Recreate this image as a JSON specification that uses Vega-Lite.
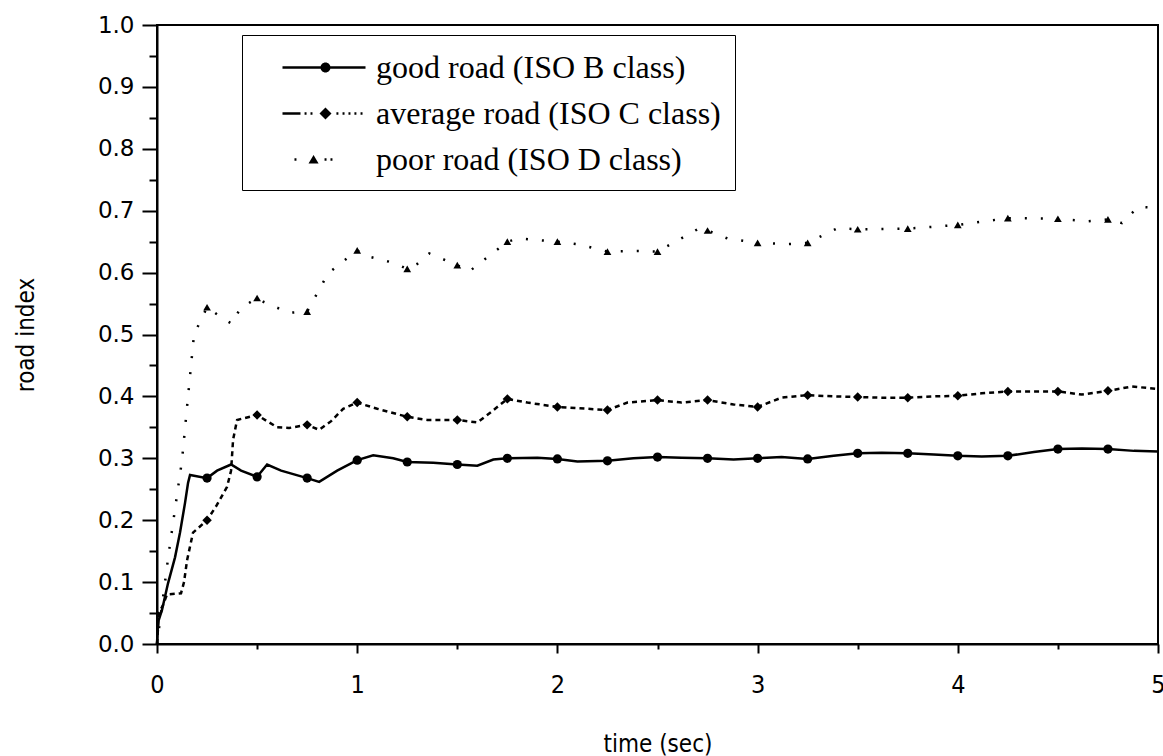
{
  "$schema": "https://vega.github.io/schema/vega-lite/v6.json",
  "width": 1001,
  "height": 619,
  "autosize": "none",
  "padding": {"left": 157, "top": 25, "right": 5, "bottom": 112},
  "background": "white",
  "config": {
    "view": {"stroke": "black", "strokeWidth": 2},
    "axis": {"domainColor": "black", "domainWidth": 2, "tickColor": "black", "tickWidth": 2, "labelColor": "black", "titleColor": "black", "grid": false}
  },
  "data": {"values": [
    {"series": "good road (ISO B class)", "t": 0, "v": 0},
    {"series": "good road (ISO B class)", "t": 0.005, "v": 0.035},
    {"series": "good road (ISO B class)", "t": 0.025, "v": 0.055},
    {"series": "good road (ISO B class)", "t": 0.055, "v": 0.098},
    {"series": "good road (ISO B class)", "t": 0.09, "v": 0.14},
    {"series": "good road (ISO B class)", "t": 0.115, "v": 0.18},
    {"series": "good road (ISO B class)", "t": 0.14, "v": 0.228},
    {"series": "good road (ISO B class)", "t": 0.155, "v": 0.26},
    {"series": "good road (ISO B class)", "t": 0.165, "v": 0.273},
    {"series": "good road (ISO B class)", "t": 0.25, "v": 0.268},
    {"series": "good road (ISO B class)", "t": 0.3, "v": 0.28},
    {"series": "good road (ISO B class)", "t": 0.37, "v": 0.29},
    {"series": "good road (ISO B class)", "t": 0.42, "v": 0.28},
    {"series": "good road (ISO B class)", "t": 0.5, "v": 0.27},
    {"series": "good road (ISO B class)", "t": 0.55, "v": 0.29},
    {"series": "good road (ISO B class)", "t": 0.62, "v": 0.28},
    {"series": "good road (ISO B class)", "t": 0.75, "v": 0.268},
    {"series": "good road (ISO B class)", "t": 0.81, "v": 0.262},
    {"series": "good road (ISO B class)", "t": 0.9, "v": 0.28},
    {"series": "good road (ISO B class)", "t": 1.0, "v": 0.297},
    {"series": "good road (ISO B class)", "t": 1.08, "v": 0.305},
    {"series": "good road (ISO B class)", "t": 1.18, "v": 0.3},
    {"series": "good road (ISO B class)", "t": 1.25, "v": 0.294},
    {"series": "good road (ISO B class)", "t": 1.38, "v": 0.293},
    {"series": "good road (ISO B class)", "t": 1.5, "v": 0.29},
    {"series": "good road (ISO B class)", "t": 1.6, "v": 0.288},
    {"series": "good road (ISO B class)", "t": 1.68, "v": 0.298},
    {"series": "good road (ISO B class)", "t": 1.75, "v": 0.3},
    {"series": "good road (ISO B class)", "t": 1.9, "v": 0.301},
    {"series": "good road (ISO B class)", "t": 2.0, "v": 0.299},
    {"series": "good road (ISO B class)", "t": 2.1, "v": 0.295},
    {"series": "good road (ISO B class)", "t": 2.25, "v": 0.296},
    {"series": "good road (ISO B class)", "t": 2.38, "v": 0.3},
    {"series": "good road (ISO B class)", "t": 2.5, "v": 0.302},
    {"series": "good road (ISO B class)", "t": 2.62, "v": 0.301},
    {"series": "good road (ISO B class)", "t": 2.75, "v": 0.3},
    {"series": "good road (ISO B class)", "t": 2.88, "v": 0.298},
    {"series": "good road (ISO B class)", "t": 3.0, "v": 0.3},
    {"series": "good road (ISO B class)", "t": 3.12, "v": 0.302},
    {"series": "good road (ISO B class)", "t": 3.25, "v": 0.299},
    {"series": "good road (ISO B class)", "t": 3.38, "v": 0.304},
    {"series": "good road (ISO B class)", "t": 3.5, "v": 0.308},
    {"series": "good road (ISO B class)", "t": 3.62, "v": 0.309},
    {"series": "good road (ISO B class)", "t": 3.75, "v": 0.308},
    {"series": "good road (ISO B class)", "t": 3.88, "v": 0.306},
    {"series": "good road (ISO B class)", "t": 4.0, "v": 0.304},
    {"series": "good road (ISO B class)", "t": 4.12, "v": 0.303},
    {"series": "good road (ISO B class)", "t": 4.25, "v": 0.304},
    {"series": "good road (ISO B class)", "t": 4.38, "v": 0.31},
    {"series": "good road (ISO B class)", "t": 4.5, "v": 0.315},
    {"series": "good road (ISO B class)", "t": 4.62, "v": 0.316},
    {"series": "good road (ISO B class)", "t": 4.75, "v": 0.315},
    {"series": "good road (ISO B class)", "t": 4.88, "v": 0.312},
    {"series": "good road (ISO B class)", "t": 5.0, "v": 0.311},

    {"series": "average road (ISO C class)", "t": 0, "v": 0},
    {"series": "average road (ISO C class)", "t": 0.01, "v": 0.05},
    {"series": "average road (ISO C class)", "t": 0.03, "v": 0.063},
    {"series": "average road (ISO C class)", "t": 0.05, "v": 0.08},
    {"series": "average road (ISO C class)", "t": 0.12, "v": 0.082},
    {"series": "average road (ISO C class)", "t": 0.135, "v": 0.1},
    {"series": "average road (ISO C class)", "t": 0.15, "v": 0.135},
    {"series": "average road (ISO C class)", "t": 0.18, "v": 0.18},
    {"series": "average road (ISO C class)", "t": 0.25, "v": 0.2},
    {"series": "average road (ISO C class)", "t": 0.3, "v": 0.225},
    {"series": "average road (ISO C class)", "t": 0.35, "v": 0.254},
    {"series": "average road (ISO C class)", "t": 0.37, "v": 0.28},
    {"series": "average road (ISO C class)", "t": 0.38, "v": 0.33},
    {"series": "average road (ISO C class)", "t": 0.4, "v": 0.362},
    {"series": "average road (ISO C class)", "t": 0.5, "v": 0.37},
    {"series": "average road (ISO C class)", "t": 0.6, "v": 0.35},
    {"series": "average road (ISO C class)", "t": 0.66, "v": 0.349},
    {"series": "average road (ISO C class)", "t": 0.75, "v": 0.354},
    {"series": "average road (ISO C class)", "t": 0.81, "v": 0.346},
    {"series": "average road (ISO C class)", "t": 0.87, "v": 0.36},
    {"series": "average road (ISO C class)", "t": 0.93, "v": 0.38},
    {"series": "average road (ISO C class)", "t": 1.0, "v": 0.39},
    {"series": "average road (ISO C class)", "t": 1.1, "v": 0.38},
    {"series": "average road (ISO C class)", "t": 1.25, "v": 0.367},
    {"series": "average road (ISO C class)", "t": 1.35, "v": 0.362},
    {"series": "average road (ISO C class)", "t": 1.5, "v": 0.362},
    {"series": "average road (ISO C class)", "t": 1.6, "v": 0.358},
    {"series": "average road (ISO C class)", "t": 1.67, "v": 0.375},
    {"series": "average road (ISO C class)", "t": 1.75, "v": 0.396},
    {"series": "average road (ISO C class)", "t": 1.85, "v": 0.39},
    {"series": "average road (ISO C class)", "t": 2.0, "v": 0.383},
    {"series": "average road (ISO C class)", "t": 2.15, "v": 0.38},
    {"series": "average road (ISO C class)", "t": 2.25, "v": 0.378},
    {"series": "average road (ISO C class)", "t": 2.35, "v": 0.39},
    {"series": "average road (ISO C class)", "t": 2.5, "v": 0.394},
    {"series": "average road (ISO C class)", "t": 2.62, "v": 0.39},
    {"series": "average road (ISO C class)", "t": 2.75, "v": 0.394},
    {"series": "average road (ISO C class)", "t": 2.88, "v": 0.387},
    {"series": "average road (ISO C class)", "t": 3.0, "v": 0.383},
    {"series": "average road (ISO C class)", "t": 3.12, "v": 0.398},
    {"series": "average road (ISO C class)", "t": 3.25, "v": 0.402},
    {"series": "average road (ISO C class)", "t": 3.38, "v": 0.4},
    {"series": "average road (ISO C class)", "t": 3.5, "v": 0.399},
    {"series": "average road (ISO C class)", "t": 3.62, "v": 0.398},
    {"series": "average road (ISO C class)", "t": 3.75, "v": 0.398},
    {"series": "average road (ISO C class)", "t": 3.88, "v": 0.4},
    {"series": "average road (ISO C class)", "t": 4.0, "v": 0.401},
    {"series": "average road (ISO C class)", "t": 4.12, "v": 0.405},
    {"series": "average road (ISO C class)", "t": 4.25, "v": 0.408},
    {"series": "average road (ISO C class)", "t": 4.38, "v": 0.408},
    {"series": "average road (ISO C class)", "t": 4.5, "v": 0.408},
    {"series": "average road (ISO C class)", "t": 4.62, "v": 0.403},
    {"series": "average road (ISO C class)", "t": 4.75, "v": 0.409},
    {"series": "average road (ISO C class)", "t": 4.87, "v": 0.416},
    {"series": "average road (ISO C class)", "t": 5.0, "v": 0.412},

    {"series": "poor road (ISO D class)", "t": 0, "v": 0},
    {"series": "poor road (ISO D class)", "t": 0.06, "v": 0.15},
    {"series": "poor road (ISO D class)", "t": 0.125, "v": 0.297},
    {"series": "poor road (ISO D class)", "t": 0.155, "v": 0.4},
    {"series": "poor road (ISO D class)", "t": 0.185, "v": 0.5},
    {"series": "poor road (ISO D class)", "t": 0.25, "v": 0.544},
    {"series": "poor road (ISO D class)", "t": 0.32, "v": 0.528},
    {"series": "poor road (ISO D class)", "t": 0.375, "v": 0.517},
    {"series": "poor road (ISO D class)", "t": 0.415, "v": 0.542},
    {"series": "poor road (ISO D class)", "t": 0.5, "v": 0.559},
    {"series": "poor road (ISO D class)", "t": 0.53, "v": 0.553},
    {"series": "poor road (ISO D class)", "t": 0.66, "v": 0.535},
    {"series": "poor road (ISO D class)", "t": 0.75, "v": 0.537},
    {"series": "poor road (ISO D class)", "t": 0.855, "v": 0.599},
    {"series": "poor road (ISO D class)", "t": 1.0, "v": 0.636},
    {"series": "poor road (ISO D class)", "t": 1.03, "v": 0.628},
    {"series": "poor road (ISO D class)", "t": 1.18, "v": 0.616},
    {"series": "poor road (ISO D class)", "t": 1.25, "v": 0.606},
    {"series": "poor road (ISO D class)", "t": 1.3, "v": 0.614},
    {"series": "poor road (ISO D class)", "t": 1.36, "v": 0.631},
    {"series": "poor road (ISO D class)", "t": 1.5, "v": 0.612},
    {"series": "poor road (ISO D class)", "t": 1.56, "v": 0.602},
    {"series": "poor road (ISO D class)", "t": 1.75, "v": 0.65},
    {"series": "poor road (ISO D class)", "t": 1.81, "v": 0.655},
    {"series": "poor road (ISO D class)", "t": 2.0, "v": 0.65},
    {"series": "poor road (ISO D class)", "t": 2.1, "v": 0.646},
    {"series": "poor road (ISO D class)", "t": 2.25, "v": 0.634},
    {"series": "poor road (ISO D class)", "t": 2.4, "v": 0.635},
    {"series": "poor road (ISO D class)", "t": 2.5, "v": 0.634},
    {"series": "poor road (ISO D class)", "t": 2.7, "v": 0.67},
    {"series": "poor road (ISO D class)", "t": 2.75, "v": 0.668},
    {"series": "poor road (ISO D class)", "t": 2.85, "v": 0.655},
    {"series": "poor road (ISO D class)", "t": 3.0, "v": 0.648},
    {"series": "poor road (ISO D class)", "t": 3.15, "v": 0.646},
    {"series": "poor road (ISO D class)", "t": 3.25, "v": 0.648},
    {"series": "poor road (ISO D class)", "t": 3.4, "v": 0.672},
    {"series": "poor road (ISO D class)", "t": 3.5, "v": 0.67},
    {"series": "poor road (ISO D class)", "t": 3.75, "v": 0.671},
    {"series": "poor road (ISO D class)", "t": 4.0, "v": 0.677},
    {"series": "poor road (ISO D class)", "t": 4.25, "v": 0.688},
    {"series": "poor road (ISO D class)", "t": 4.5, "v": 0.687},
    {"series": "poor road (ISO D class)", "t": 4.65, "v": 0.683},
    {"series": "poor road (ISO D class)", "t": 4.75, "v": 0.686},
    {"series": "poor road (ISO D class)", "t": 4.82, "v": 0.68},
    {"series": "poor road (ISO D class)", "t": 4.9, "v": 0.706},
    {"series": "poor road (ISO D class)", "t": 5.0, "v": 0.705}
  ]},
  "encoding": {
    "x": {"field": "t", "type": "quantitative",
      "scale": {"domain": [0, 5], "nice": false, "zero": false},
      "axis": {"title": "time (sec)", "values": [0, 0.5, 1, 1.5, 2, 2.5, 3, 3.5, 4, 4.5, 5],
        "labelExpr": "datum.value % 1 === 0 ? format(datum.value, 'd') : ''",
        "tickSize": {"condition": {"test": "datum.value % 1 === 0", "value": 9}, "value": 5},
        "labelPadding": 19, "labelFont": "Liberation Sans Narrow, DejaVu Sans Condensed, sans-serif", "labelFontSize": 25,
        "labelOverlap": false, "labelFlush": false,
        "titleFont": "Liberation Sans Narrow, DejaVu Sans Condensed, sans-serif", "titleFontSize": 24, "titleFontWeight": "normal", "titlePadding": 35}},
    "y": {"field": "v", "type": "quantitative",
      "scale": {"domain": [0, 1], "nice": false},
      "axis": {"title": "road index",
        "values": [0, 0.05, 0.1, 0.15, 0.2, 0.25, 0.3, 0.35, 0.4, 0.45, 0.5, 0.55, 0.6, 0.65, 0.7, 0.75, 0.8, 0.85, 0.9, 0.95, 1.0],
        "labelExpr": "round(datum.value * 100) % 10 === 0 ? format(datum.value, '.1f') : ''",
        "tickSize": {"condition": {"test": "round(datum.value * 100) % 10 === 0", "value": 15}, "value": 8},
        "labelPadding": 8, "labelFont": "DejaVu Sans", "labelFontSize": 23,
        "labelOverlap": false, "labelFlush": false,
        "titleFont": "Liberation Sans Narrow, DejaVu Sans Condensed, sans-serif", "titleFontSize": 24, "titleFontWeight": "normal", "titlePadding": 59}}
  },
  "layer": [
    {
      "transform": [{"filter": "datum.series === 'good road (ISO B class)'"}],
      "mark": {"type": "line", "color": "black", "strokeWidth": 2.5}
    },
    {
      "transform": [{"filter": "datum.series === 'average road (ISO C class)'"}],
      "mark": {"type": "line", "color": "black", "strokeWidth": 2.5, "strokeDash": [5, 4]}
    },
    {
      "transform": [{"filter": "datum.series === 'poor road (ISO D class)'"}],
      "mark": {"type": "line", "color": "black", "strokeWidth": 2.5, "strokeDash": [2, 14]}
    },
    {
      "transform": [{"filter": "datum.series === 'good road (ISO B class)' && datum.t > 0 && datum.t < 5 && round(datum.t * 100) % 25 === 0"}],
      "mark": {"type": "point", "filled": true, "color": "black", "size": 85, "opacity": 1, "shape": "circle"}
    },
    {
      "transform": [{"filter": "datum.series === 'average road (ISO C class)' && datum.t > 0 && datum.t < 5 && round(datum.t * 100) % 25 === 0"}],
      "mark": {"type": "point", "filled": true, "color": "black", "size": 90, "opacity": 1, "shape": "diamond"}
    },
    {
      "transform": [{"filter": "datum.series === 'poor road (ISO D class)' && datum.t > 0 && datum.t < 5 && round(datum.t * 100) % 25 === 0"}],
      "mark": {"type": "point", "filled": true, "color": "black", "size": 60, "opacity": 1, "shape": "triangle-up"}
    },
    {
      "transform": [{"filter": "datum.t < 0"}],
      "mark": {"type": "point", "filled": true, "fill": "black", "stroke": "black", "strokeWidth": 2, "opacity": 1},
      "encoding": {
        "shape": {"field": "series", "type": "nominal",
          "scale": {"domain": ["good road (ISO B class)", "average road (ISO C class)", "poor road (ISO D class)"],
                    "range": [
                      "M0.444,-0.065L5.056,-0.065L5.056,0.065L0.444,0.065ZM3.111,0A0.278,0.278,0,1,1,2.555,0A0.278,0.278,0,1,1,3.111,0Z",
                      "M0.444,-0.065L1.444,-0.065L1.444,0.065L0.444,0.065ZM1.67,-0.065L1.78,-0.065L1.78,0.065L1.67,0.065ZM2.0,-0.065L2.11,-0.065L2.11,0.065L2.0,0.065ZM2.833,-0.333L3.167,0L2.833,0.333L2.5,0ZM3.44,-0.065L3.55,-0.065L3.55,0.065L3.44,0.065ZM3.78,-0.065L3.89,-0.065L3.89,0.065L3.78,0.065ZM4.11,-0.065L4.22,-0.065L4.22,0.065L4.11,0.065ZM4.44,-0.065L4.55,-0.065L4.55,0.065L4.44,0.065ZM4.78,-0.065L4.89,-0.065L4.89,0.065L4.78,0.065Z",
                      "M1.11,-0.065L1.22,-0.065L1.22,0.065L1.11,0.065ZM1.89,0.22L2.17,-0.25L2.45,0.22ZM2.78,-0.065L2.89,-0.065L2.89,0.065L2.78,0.065ZM3.11,-0.065L3.22,-0.065L3.22,0.065L3.11,0.065Z"
                    ]},
          "legend": {
            "orient": "none", "legendX": 85, "legendY": 10, "title": null,
            "strokeColor": "black", "fillColor": "white", "padding": 14,
            "symbolSize": 1296, "rowPadding": 11,
            "symbolFillColor": "black", "symbolStrokeColor": "black", "symbolStrokeWidth": 1, "symbolOpacity": 1,
            "labelFont": "Liberation Serif", "labelFontSize": 32, "labelColor": "black",
            "labelLimit": 600, "labelOffset": 83,
            "encode": {
              "symbols": {"fill": {"value": "black"}}
            }
          }}
      }
    }
  ]
}
